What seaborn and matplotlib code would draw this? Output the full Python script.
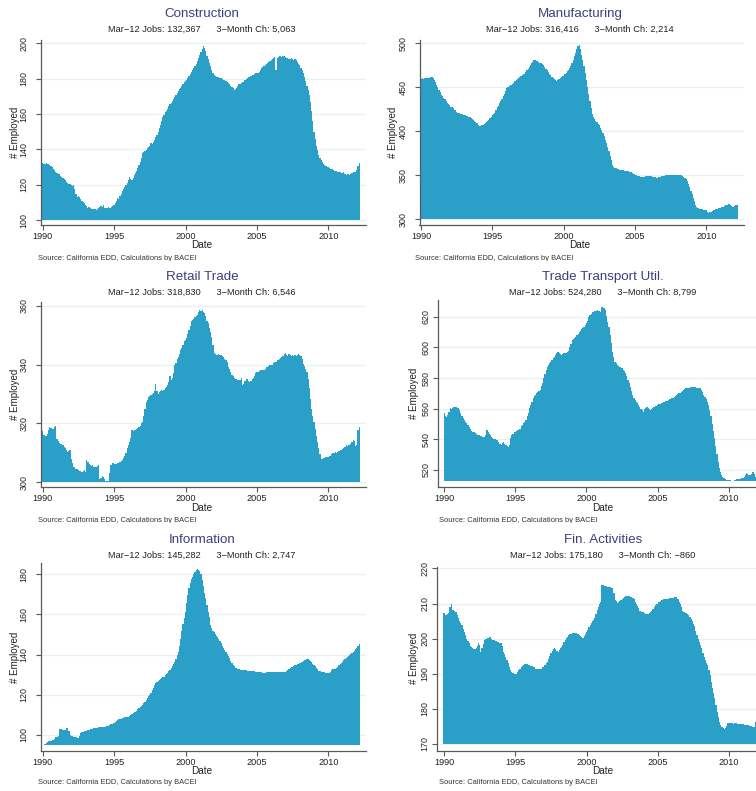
import matplotlib
matplotlib.use("Agg")
import numpy as np
import pandas as pd
import matplotlib.pyplot as plt
from matplotlib.transforms import Bbox
import seaborn as sns

# Monthly employment (thousands), Jan 1990 - Mar 2012
construction = [
    132.4, 132.0, 131.8, 132.1, 131.6, 131.9, 131.2, 130.5, 129.8, 129.0, 128.2, 127.3,
    126.5, 126.0, 126.3, 125.2, 124.6, 124.0, 123.3, 122.6, 121.8, 121.0, 120.5, 120.2,
    120.0, 119.5, 119.8, 117.5, 115.0, 113.0, 113.4, 112.8, 112.0, 111.0, 110.2, 109.5,
    108.5, 107.8, 107.0, 107.5, 106.8, 106.3, 106.0, 106.4, 106.1, 105.8, 106.2, 106.9,
    107.5, 108.0, 107.6, 108.3, 107.1, 106.8, 106.9, 107.2, 106.7, 106.9, 107.3, 107.8,
    108.3, 109.5, 111.0, 112.5, 112.0, 113.8, 115.0, 116.4, 117.8, 118.7, 120.0, 121.2,
    122.5, 124.6, 123.2, 122.5, 124.0, 125.5, 126.8, 128.0, 129.5, 131.0, 133.0, 135.0,
    137.8, 138.6, 139.2, 139.8, 140.5, 141.2, 142.0, 143.5, 142.8, 144.0, 145.5, 147.0,
    148.2, 150.0, 152.0, 154.0, 156.0, 158.5, 159.5, 161.0, 162.0, 163.0, 164.5, 165.5,
    166.0, 167.5, 168.5, 169.8, 171.0, 172.0, 173.0, 174.0, 175.0, 176.0, 177.0, 178.0,
    178.8, 179.5, 180.5, 181.5, 182.5, 183.8, 185.0, 186.0, 187.0, 188.5, 190.0, 191.8,
    193.5, 195.0, 197.0, 198.5, 197.5, 195.5, 193.0, 191.0, 189.0, 187.0, 185.0, 183.0,
    182.0, 181.5, 181.0, 181.2, 180.8, 180.5, 180.2, 179.8, 179.5, 179.0, 178.5, 178.0,
    177.5, 177.0, 176.0, 175.5, 174.5, 173.8, 174.2, 175.0, 176.0, 176.8, 177.0, 177.5,
    178.0, 178.2, 179.0, 180.0, 180.5, 181.0, 181.2, 181.5, 182.0, 182.0, 182.5, 183.0,
    183.0, 183.5, 184.0, 185.0, 185.8, 186.5, 187.0, 188.0, 188.5, 189.0, 189.5, 190.0,
    190.5, 191.0, 191.5, 192.0, 185.0, 191.5, 192.5, 193.0, 193.0, 192.5, 192.8, 193.0,
    192.0, 191.5, 191.8, 191.2, 191.0, 191.5, 191.3, 190.8, 191.0, 190.5, 189.5, 188.5,
    187.5, 186.0, 185.0, 183.0, 181.0, 178.5, 176.0, 173.5, 170.5, 167.0, 162.0, 156.0,
    150.0, 146.0, 142.0, 139.5, 137.0, 135.0, 134.0, 133.0, 132.0, 131.0, 130.5, 130.0,
    129.8, 129.5, 129.0, 128.8, 128.5, 128.0, 127.8, 127.5, 127.2, 127.0, 127.2, 126.8,
    126.5, 127.0, 126.0, 125.5, 125.8, 126.0, 125.3, 125.8, 126.5, 127.0, 127.2, 127.304,
    128.5, 130.5, 132.367,
]

manufacturing = [
    459.5, 460.0, 459.0, 460.5, 460.0, 460.8, 460.2, 461.0, 461.5, 461.8, 460.5, 458.0,
    455.5, 453.0, 450.0, 447.0, 444.0, 441.0, 439.5, 438.0, 436.0, 434.0, 432.0, 430.5,
    429.5, 428.0, 427.0, 426.0, 424.5, 423.5, 422.0, 421.0, 420.5, 419.8, 419.5, 419.0,
    418.5, 418.0, 417.5, 417.0, 416.5, 416.0, 415.0, 414.0, 413.0, 411.5, 410.5, 409.0,
    406.5, 405.5, 406.0, 406.8, 407.5, 408.5, 409.5, 410.5, 411.5, 413.0, 414.5, 416.0,
    418.0, 419.5, 421.0, 424.0, 427.0, 429.0, 431.5, 434.0, 437.0, 439.5, 442.5, 446.0,
    449.0, 450.0, 451.0, 452.0, 453.0, 454.0, 455.0, 456.5, 458.0, 459.5, 460.5, 461.5,
    462.5, 463.5, 464.5, 465.5, 467.0, 469.0, 471.0, 473.0, 475.0, 477.0, 479.0, 480.5,
    481.0, 480.0, 479.5, 478.5, 478.0, 477.0, 476.5, 475.0, 473.0, 471.0, 469.0, 467.0,
    465.0, 463.5, 462.0, 460.5, 459.0, 458.0, 457.5, 458.5, 459.5, 460.5, 461.5, 462.5,
    463.0, 464.5, 466.0, 468.0, 470.0, 472.0, 474.0, 477.0, 481.0, 485.0, 489.0, 494.0,
    497.0, 498.0, 494.0, 487.0, 481.0, 474.0, 466.0, 458.0, 450.5, 442.0, 434.0, 426.0,
    420.0, 416.0, 414.0, 412.0, 410.0, 408.0, 406.5, 404.0, 401.0, 397.5, 394.0, 390.0,
    386.0, 382.0, 377.0, 372.0, 367.0, 362.0, 359.5, 358.0, 357.5, 357.0, 356.5, 356.0,
    356.0, 355.8, 355.5, 355.0, 355.0, 354.5, 354.2, 354.0, 353.5, 353.0, 352.0, 351.0,
    350.5, 350.0, 349.5, 349.0, 348.5, 348.0, 348.0, 347.8, 348.0, 348.5, 349.0, 349.2,
    349.3, 349.0, 348.5, 348.0, 347.5, 347.4, 347.2, 347.0, 347.5, 348.0, 348.5, 349.0,
    349.2, 349.5, 349.8, 350.0, 350.0, 350.2, 350.0, 350.3, 350.5, 350.5, 350.6, 350.4,
    350.5, 350.3, 350.0, 349.8, 349.0, 348.0, 346.5, 345.0, 343.0, 340.0, 336.0, 331.5,
    328.0, 324.0, 320.0, 316.5, 314.0, 312.5, 311.8, 311.5, 311.2, 311.0, 310.8, 310.5,
    310.0, 307.5, 307.0, 307.8, 308.5, 309.5, 310.0, 310.5, 311.0, 311.5, 312.0, 312.5,
    313.0, 313.5, 314.0, 314.8, 315.5, 316.0, 316.5, 317.0, 316.0, 314.5, 314.0, 314.202,
    315.0, 315.8, 316.416,
]

retail = [
    317.3, 316.0, 315.8, 315.6, 316.5, 317.8, 318.8, 318.5, 318.0, 318.2, 318.6, 319.0,
    314.5, 314.0, 313.3, 313.0, 312.8, 312.5, 312.0, 311.5, 310.8, 310.2, 310.5, 310.8,
    308.0, 306.5, 305.0, 305.2, 304.5, 304.3, 304.0, 303.8, 303.6, 303.5, 303.7, 304.2,
    303.4, 307.4, 306.8, 306.0, 305.7, 305.5, 305.7, 305.2, 305.0, 305.0, 305.4, 305.8,
    301.0, 301.5, 302.0, 301.8, 301.0, 300.4, 300.2, 300.3, 303.0, 305.7, 305.8, 306.5,
    306.3, 306.0, 306.2, 306.5, 306.6, 306.8, 307.0, 307.5, 308.2, 309.0, 310.0, 311.5,
    312.5, 313.5, 315.0, 317.6, 317.5, 317.6, 317.8, 318.0, 318.5, 318.8, 319.2, 320.0,
    320.5, 322.5, 325.0, 327.3, 328.0, 329.0, 329.2, 329.5, 330.0, 330.2, 331.0, 333.5,
    331.0, 330.0, 330.5, 331.0, 331.2, 331.0, 331.5, 332.0, 332.5, 333.0, 334.0, 336.0,
    334.7, 335.5, 337.0, 339.8, 340.5, 342.0, 342.5, 343.5, 344.9, 345.5, 346.5, 348.0,
    348.3, 349.0, 350.5, 351.7, 353.0, 355.0, 355.2, 355.5, 356.3, 356.5, 357.0, 358.0,
    358.5, 358.2, 358.5, 358.0, 357.5, 356.5, 355.0, 354.0, 352.5, 351.0, 349.5, 346.6,
    343.8, 343.5, 343.3, 343.4, 343.5, 343.4, 343.2, 343.0, 342.5, 342.0, 341.5, 341.0,
    339.2, 338.5, 337.5, 336.4, 336.0, 335.5, 335.2, 335.0, 334.8, 334.7, 334.6, 335.5,
    333.0, 333.5, 334.5, 335.2, 335.0, 334.5, 334.1, 334.5, 335.0, 335.5, 336.0, 337.0,
    337.5, 337.5, 337.8, 338.0, 338.0, 338.2, 338.0, 338.5, 339.0, 339.2, 339.5, 340.0,
    339.8, 340.0, 340.5, 340.8, 341.0, 341.5, 341.5, 342.0, 342.2, 342.5, 343.0, 343.5,
    343.8, 343.2, 343.0, 343.5, 343.2, 343.0, 343.3, 343.0, 343.2, 343.0, 343.4, 343.6,
    343.2, 343.0, 342.0, 340.3, 339.5, 338.5, 337.5, 335.0, 332.0, 328.4, 325.0, 322.5,
    320.5, 318.0, 315.5, 313.6, 311.5, 309.5, 308.0, 308.0, 308.2, 308.3, 308.4, 308.6,
    308.5, 308.8, 309.0, 309.7, 309.8, 310.0, 310.2, 310.0, 310.3, 310.5, 310.8, 311.0,
    311.4, 311.5, 312.0, 312.5, 312.3, 312.6, 312.5, 313.0, 313.5, 314.2, 314.0, 312.284,
    312.5, 317.6, 318.830,
]

trade_transport = [
    557.0, 555.5, 554.8, 556.0, 558.0, 560.2, 560.0, 560.5, 561.0, 561.3, 560.8, 560.5,
    560.2, 559.0, 557.0, 555.5, 554.0, 552.6, 551.5, 550.5, 549.3, 548.0, 546.5, 545.5,
    545.0, 544.5, 544.0, 543.5, 543.0, 542.8, 542.5, 542.0, 541.7, 541.5, 541.5, 543.0,
    546.0, 545.0, 543.5, 542.8, 541.5, 540.8, 540.2, 540.0, 539.8, 539.6, 538.0, 537.0,
    536.3, 537.5, 538.5, 537.0, 536.0, 535.5, 535.2, 536.0, 541.0, 542.8, 543.5, 544.5,
    545.0, 545.5, 546.0, 546.0, 547.0, 548.5, 549.3, 550.5, 551.5, 552.6, 555.0, 557.5,
    560.2, 562.5, 564.5, 566.7, 568.0, 569.0, 570.0, 570.8, 571.5, 572.0, 574.5, 577.0,
    579.8, 582.5, 585.0, 587.4, 588.5, 590.0, 590.7, 591.5, 593.0, 594.0, 595.0, 596.0,
    596.7, 596.0, 595.5, 595.0, 595.5, 596.0, 596.0, 596.5, 597.0, 597.6, 600.0, 602.5,
    604.8, 605.5, 606.2, 607.0, 608.0, 609.0, 610.2, 611.0, 611.8, 612.4, 613.5, 614.5,
    615.7, 617.5, 619.5, 621.0, 622.0, 622.8, 623.3, 623.5, 624.0, 624.3, 623.8, 623.5,
    623.3, 626.5, 626.0, 625.4, 624.5, 620.5, 616.7, 613.0, 608.0, 603.0, 597.0, 594.0,
    590.7, 589.5, 588.5, 588.0, 587.5, 587.0, 586.3, 585.5, 584.5, 583.0, 581.0, 579.0,
    576.5, 574.0, 571.5, 569.0, 567.0, 565.5, 564.6, 563.5, 562.5, 561.3, 560.0, 559.0,
    558.0, 559.5, 560.5, 561.3, 560.5, 559.5, 559.0, 559.5, 560.5, 561.3, 561.8, 562.0,
    562.4, 562.8, 563.2, 563.6, 564.0, 564.2, 564.6, 565.0, 565.3, 565.8, 566.2, 566.5,
    566.7, 567.2, 567.8, 568.3, 568.8, 569.4, 570.0, 570.5, 571.2, 571.8, 572.5, 573.0,
    573.3, 573.5, 573.6, 573.8, 574.0, 574.3, 574.3, 574.0, 574.0, 573.8, 573.5, 573.4,
    573.3, 572.5, 571.0, 569.0, 567.5, 566.0, 564.6, 562.5, 559.0, 555.0, 550.0, 545.5,
    540.7, 535.5, 530.5, 525.4, 521.0, 518.5, 516.7, 515.5, 514.6, 514.0, 513.7, 513.5,
    513.5, 513.2, 513.0, 512.8, 513.0, 513.2, 513.5, 513.8, 514.0, 514.2, 514.4, 514.5,
    514.6, 515.5, 516.5, 517.8, 517.5, 517.0, 516.7, 517.5, 518.5, 519.0, 517.5, 515.481,
    518.0, 521.0, 524.280,
]

information = [
    95.0, 95.2, 95.4, 95.9, 96.3, 97.0, 97.0, 97.2, 97.5, 97.6, 98.0, 98.8,
    99.2, 99.5, 103.0, 103.2, 102.8, 102.5, 102.6, 102.7, 103.3, 103.5, 102.0, 100.0,
    99.7, 99.4, 99.2, 99.0, 98.8, 98.7, 98.5, 99.5, 100.8, 101.3, 101.6, 101.8,
    102.0, 102.2, 102.4, 102.6, 102.8, 103.0, 103.1, 103.3, 103.5, 103.6, 103.7, 103.8,
    103.8, 103.9, 104.0, 104.0, 104.1, 104.1, 104.2, 104.5, 104.9, 105.2, 105.5, 105.6,
    105.8, 106.5, 107.0, 107.5, 107.8, 108.0, 108.1, 108.3, 108.5, 108.7, 108.9, 109.0,
    109.1, 109.5, 109.9, 110.3, 110.8, 111.2, 111.6, 112.1, 112.7, 113.3, 114.0, 114.5,
    115.0, 115.8, 116.6, 117.4, 118.3, 119.2, 120.0, 121.0, 122.2, 123.5, 124.8, 125.8,
    126.6, 127.0, 127.4, 127.8, 128.2, 128.6, 129.0, 129.6, 130.3, 131.0, 131.8, 132.5,
    133.2, 134.3, 135.4, 136.5, 138.0, 139.7, 141.5, 144.5, 148.0, 151.5, 155.0, 158.0,
    161.4, 165.5, 169.5, 173.0, 175.8, 177.5, 178.8, 180.0, 181.2, 182.2, 182.5, 182.0,
    181.7, 180.2, 177.2, 174.0, 170.5, 168.0, 164.5, 161.4, 158.5, 154.8, 153.0, 151.8,
    151.1, 150.3, 149.5, 149.0, 147.8, 146.8, 145.6, 144.5, 143.3, 142.3, 141.3, 140.4,
    139.5, 138.2, 136.8, 135.7, 135.0, 134.2, 133.5, 133.2, 132.9, 132.7, 132.5, 132.4,
    132.4, 132.3, 132.2, 132.1, 132.0, 132.0, 131.9, 131.8, 131.8, 131.7, 131.6, 131.5,
    131.5, 131.4, 131.3, 131.2, 131.1, 131.0, 131.0, 131.0, 131.1, 131.2, 131.2, 131.2,
    131.2, 131.3, 131.3, 131.4, 131.4, 131.5, 131.5, 131.4, 131.3, 131.3, 131.4, 131.5,
    131.5, 131.8, 132.2, 132.7, 133.2, 133.6, 134.0, 134.3, 134.7, 135.0, 135.3, 135.5,
    135.7, 136.0, 136.4, 136.8, 137.2, 137.5, 137.8, 137.6, 137.2, 136.8, 136.2, 135.5,
    134.9, 134.2, 133.5, 132.6, 131.9, 131.7, 131.5, 131.4, 131.3, 131.1, 131.0, 130.8,
    130.7, 130.8, 131.2, 132.4, 132.6, 132.8, 132.9, 133.3, 133.9, 134.6, 135.3, 135.9,
    136.5, 137.1, 137.7, 138.3, 138.9, 139.3, 139.8, 140.3, 140.8, 141.4, 142.0, 142.535,
    143.5, 144.4, 145.282,
]

financial = [
    207.2, 206.8, 206.7, 207.0, 207.2, 209.0, 210.0, 208.3, 208.1, 207.9, 207.7, 206.8,
    205.8, 205.0, 204.5, 203.9, 202.8, 201.8, 201.0, 200.0, 199.3, 198.7, 198.0, 197.5,
    197.2, 197.0, 197.0, 197.3, 198.0, 198.7, 198.3, 196.3, 197.2, 198.5, 199.5, 200.0,
    200.0, 200.3, 200.5, 200.4, 200.0, 199.6, 199.5, 199.3, 199.2, 199.1, 199.0, 198.9,
    198.7, 198.0, 196.3, 195.5, 194.7, 193.9, 193.0, 192.0, 191.2, 190.6, 190.2, 189.9,
    189.8, 190.0, 190.6, 191.0, 191.5, 192.0, 192.3, 192.5, 192.7, 192.8, 192.7, 192.6,
    192.5, 192.3, 192.1, 192.0, 191.8, 191.5, 191.4, 191.3, 191.3, 191.3, 191.5, 191.8,
    192.0, 192.5, 193.0, 193.4, 194.2, 195.0, 195.8, 196.5, 197.0, 197.2, 197.0, 196.6,
    196.3, 196.8, 197.2, 197.7, 198.3, 199.0, 199.6, 200.2, 200.6, 201.0, 201.2, 201.4,
    201.5, 201.6, 201.6, 201.5, 201.4, 201.2, 201.0, 200.8, 200.5, 200.3, 200.8, 201.4,
    202.0, 202.6, 203.2, 203.9, 204.4, 204.9, 205.3, 206.0, 207.0, 208.1, 209.0, 209.8,
    210.5, 215.3, 215.2, 215.0, 214.9, 214.9, 214.8, 214.7, 214.6, 214.4, 214.3, 213.0,
    211.0, 210.6, 210.3, 210.5, 210.8, 211.0, 211.3, 211.6, 211.9, 212.1, 212.2, 212.2,
    212.1, 212.0, 211.9, 211.7, 211.2, 210.5, 209.8, 209.2, 208.6, 207.9, 207.7, 207.6,
    207.5, 207.3, 207.1, 206.9, 207.0, 207.2, 207.5, 207.9, 208.5, 209.1, 209.5, 209.8,
    210.0, 210.4, 210.7, 211.0, 211.1, 211.2, 211.3, 211.3, 211.4, 211.4, 211.5, 211.5,
    211.5, 211.6, 211.8, 211.9, 212.0, 211.3, 210.5, 209.8, 209.0, 207.9, 207.5, 207.3,
    207.2, 207.0, 206.6, 206.2, 205.6, 205.0, 204.3, 203.5, 202.3, 201.0, 200.0, 199.1,
    198.2, 197.2, 196.0, 194.9, 193.8, 193.1, 192.5, 191.2, 189.6, 187.7, 186.0, 184.5,
    183.0, 181.0, 179.2, 177.8, 176.4, 175.5, 174.9, 174.6, 174.3, 174.5, 175.2, 175.9,
    175.9, 176.0, 175.9, 175.9, 175.8, 175.9, 175.9, 175.8, 175.7, 175.7, 175.7, 175.6,
    175.6, 175.5, 175.5, 175.4, 175.3, 175.2, 175.2, 175.1, 174.9, 174.9, 176.4, 176.040,
    175.6, 175.4, 175.180,
]

titles = ["Construction", "Manufacturing", "Retail Trade",
          "Trade Transport Util.", "Information", "Fin. Activities"]
series = [construction, manufacturing, retail, trade_transport, information, financial]
yticks = [
    [100, 120, 140, 160, 180, 200],
    [300, 350, 400, 450, 500],
    [300, 320, 340, 360],
    [520, 540, 560, 580, 600, 620],
    [100, 120, 140, 160, 180],
    [170, 180, 190, 200, 210, 220],
]
ylims = [(97.2, 201.9), (293.2, 503.7), (298.3, 361.3),
         (508.9, 630.9), (92.0, 185.6), (168.0, 220.5)]
xticks = [1990, 1995, 2000, 2005, 2010]
source_note = "Source: California EDD, Calculations by BACEI"

# month positions as decimal years
n_months = len(construction)
dates = np.array([1990 + i / 12 for i in range(n_months)])

# layout in pixels: axes box (left, top, right, bottom), x-limits,
# title centre x, y-label centre x, source x, y tick pad
W, H = 756, 791
layout = [
    dict(box=(41, 40, 366, 225), xlim=(1989.88, 2012.64), tx=202, lx=15, sx=38, pad=5.5, row=0),
    dict(box=(419.5, 40, 744, 225), xlim=(1989.88, 2012.64), tx=580, lx=393, sx=415, pad=5.5, row=0),
    dict(box=(41, 302, 366, 487), xlim=(1989.88, 2012.64), tx=202, lx=15, sx=38, pad=5.5, row=1),
    dict(box=(437.7, 300, 768, 487), xlim=(1989.54, 2012.76), tx=603, lx=414, sx=439, pad=2.0, row=1),
    dict(box=(41, 563, 366, 751), xlim=(1989.88, 2012.64), tx=202, lx=15, sx=38, pad=5.5, row=2),
    dict(box=(437, 566.7, 768, 751), xlim=(1989.50, 2012.73), tx=603, lx=414, sx=439, pad=2.0, row=2),
]
rows = [
    dict(title=14, sub=29, date=245, src=259, clip=(249, 260.8)),
    dict(title=277.3, sub=292.3, date=507.8, src=521, clip=(512, 522.6)),
    dict(title=540, sub=555, date=770.5, src=782.3, clip=None),
]

sns.set_theme(style="ticks")
plt.rcParams["font.family"] = ["Liberation Sans", "DejaVu Sans"]

BAR = "#2a9fc8"
TITLE = "#3d3f7e"
AXIS = "#595959"
GRID = "#e7f1f3"

fig = plt.figure(figsize=(W / 100, H / 100), dpi=100)
fig.patch.set_facecolor("white")


def fx(x):
    return x / W


def fy(y):
    return 1 - y / H


for title, vals, ticks, ylim, lay in zip(titles, series, yticks, ylims, layout):
    l, t, r, b = lay["box"]
    ax = fig.add_axes([fx(l), fy(b), (r - l) / W, (b - t) / H])
    vals = np.asarray(vals, dtype=float)
    base = min(vals.min(), ticks[0])
    df = pd.DataFrame({"date": dates, "height": vals - base})
    sns.barplot(data=df, x="date", y="height", native_scale=True, errorbar=None,
                width=1.06, color=BAR, saturation=1, linewidth=0, bottom=base, ax=ax)

    ax.set_xlim(*lay["xlim"])
    ax.set_ylim(*ylim)
    ax.set_xticks(xticks)
    ax.set_xticklabels([str(v) for v in xticks])
    ax.set_yticks(ticks)
    ax.set_yticklabels([str(v) for v in ticks], rotation=90, va="center")
    ax.yaxis.grid(True, color=GRID, lw=0.9)
    ax.xaxis.grid(False)
    ax.set_axisbelow(True)
    for side in ("top", "right"):
        ax.spines[side].set_visible(False)
    for side in ("left", "bottom"):
        ax.spines[side].set_color(AXIS)
        ax.spines[side].set_linewidth(0.9)
    ax.tick_params(axis="both", direction="out", length=3.3, width=0.8,
                   color=AXIS, labelcolor="#222222")
    ax.tick_params(axis="x", pad=1.8, labelsize=6.6)
    ax.tick_params(axis="y", pad=lay["pad"], labelsize=6.4)
    ax.set_facecolor("white")

    row = rows[lay["row"]]
    ax.set_xlabel("Date", fontsize=7.2, color="#222222", va="center")
    ax.xaxis.set_label_coords(fx(lay["tx"]), fy(row["date"]), transform=fig.transFigure)
    ax.set_ylabel("# Employed", fontsize=7.0, color="#222222", va="center")
    ax.yaxis.set_label_coords(fx(lay["lx"]), fy((t + b) / 2), transform=fig.transFigure)

    jobs = round(vals[-1] * 1000)
    change = round((vals[-1] - vals[-4]) * 1000)
    change_txt = f"{change:,}".replace("-", "\u2212")
    fig.text(fx(lay["tx"]), fy(row["title"]), title, ha="center", va="center",
             fontsize=9.6, color=TITLE)
    fig.text(fx(lay["tx"]), fy(row["sub"]),
             f"Mar\u221212 Jobs: {jobs:,}      3\u2212Month Ch: {change_txt}",
             ha="center", va="center", fontsize=6.7, color="#222222")
    src = fig.text(fx(lay["sx"]), fy(row["src"]), source_note, ha="left", va="center",
                   fontsize=5.4, color="#333333")
    if row["clip"] is not None:
        y0, y1 = row["clip"]
        src.set_clip_box(Bbox.from_extents(0, H - y1, W, H - y0))
        src.set_clip_on(True)

fig.savefig("out.png", dpi=100, facecolor="white")
